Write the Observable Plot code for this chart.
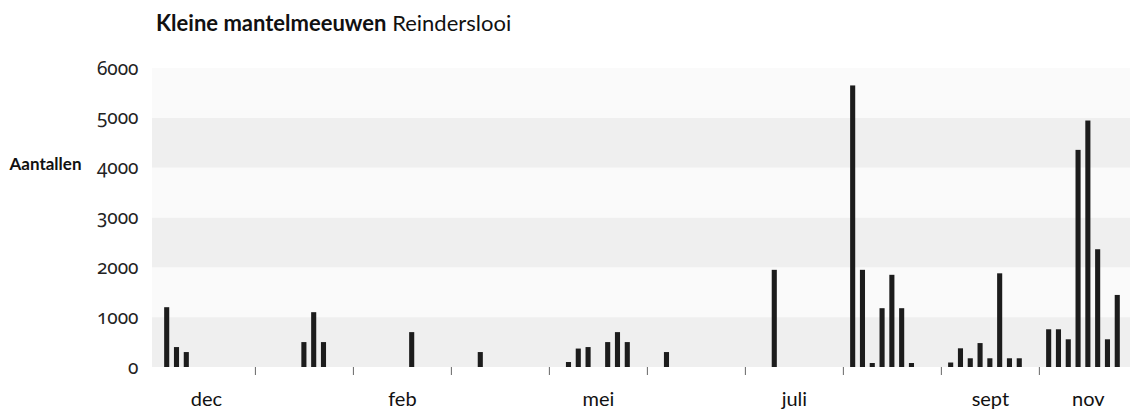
<!DOCTYPE html>
<html>
<head>
<meta charset="utf-8">
<script src="https://cdn.jsdelivr.net/npm/d3@7"></script>
<script src="https://cdn.jsdelivr.net/npm/@observablehq/plot@0.6"></script>
<style>
  html, body { margin: 0; padding: 0; background: #fff; }
  body { width: 1130px; height: 412px; overflow: hidden; font-family: Lato, "Noto Sans", sans-serif; }
  #title { height: 40px; position: relative; }
  #title span.t { position: absolute; left: 156px; top: 10px; font-size: 22px; line-height: 26px; color: #111; white-space: nowrap; }
  #title b { font-weight: 700; }
  svg { display: block; }
  svg text { font-feature-settings: "onum" 1; font-variant-numeric: oldstyle-nums; }
</style>
</head>
<body>
<div id="title"><span class="t"><b>Kleine mantelmeeuwen</b> Reinderslooi</span></div>
<div id="chart"></div>
<script>
// survey index (bar slot) and counts
const slots  = [1, 2, 3, 15, 16, 17, 26, 33, 42, 43, 44, 46, 47, 48, 52, 63,
                71, 72, 73, 74, 75, 76, 77, 81, 82, 83, 84, 85, 86, 87, 88,
                91, 92, 93, 94, 95, 96, 97, 98];
const counts = [1200, 400, 300, 500, 1100, 500, 700, 300, 100, 370, 400, 500, 700, 500, 300, 1950,
                5650, 1950, 80, 1180, 1850, 1180, 80, 90, 375, 175, 480, 175, 1880, 175, 175,
                757, 757, 556, 4357, 4946, 2363, 556, 1446];
const monthPos    = [5, 25, 45, 65, 85, 95];
const monthLabels = ["dec", "feb", "mei", "juli", "sept", "nov"];
const dividerTicks = [10, 20, 30, 40, 50, 60, 70, 80, 90];
const yTicks = [0, 1000, 2000, 3000, 4000, 5000, 6000];
const bandLo = [0, 1000, 2000, 3000, 4000, 5000];

const bars = slots.map((s, i) => ({slot: s, count: counts[i]}));
const bands = bandLo.map((lo, i) => ({lo, hi: lo + 1000, shade: i % 2 === 0}));

const chart = Plot.plot({
  width: 1130,
  height: 372,
  marginLeft: 152,
  marginRight: 0,
  marginTop: 28,
  marginBottom: 45,
  style: {fontFamily: "Lato, 'Noto Sans', sans-serif", fontSize: "16px", color: "#222", background: "#fff"},
  x: {domain: [-0.5, 99.3], axis: null},
  y: {domain: [0, 6000], axis: null},
  marks: [
    Plot.rectY(bands, {x1: -0.5, x2: 99.3, y1: "lo", y2: "hi", fill: d => d.shade ? "#efefef" : "#fafafa"}),
    Plot.rectY(bars, {x1: d => d.slot - 0.26, x2: d => d.slot + 0.26, y1: 0, y2: "count", fill: "#1c1c1c"}),
    Plot.axisY({ticks: yTicks, tickSize: 0, tickPadding: 14, tickFormat: d => String(d), fontSize: 19, fontFamily: "'Noto Sans', Lato, sans-serif", fill: "#222"}),
    Plot.axisX({ticks: dividerTicks, tickSize: 8, tickFormat: () => "", stroke: "#666", strokeWidth: 1}),
    Plot.axisX({ticks: monthPos, tickSize: 0, tickPadding: 24, tickFormat: (d) => monthLabels[monthPos.indexOf(d)], fontSize: 20, fill: "#111"}),
    Plot.text([{y: 4000, label: "Aantallen"}], {y: "y", text: "label", frameAnchor: "left", textAnchor: "start", dx: -143, dy: -4, fontWeight: "bold", fontSize: 17, fill: "#111"})
  ]
});
document.getElementById("chart").appendChild(chart);
</script>
</body>
</html>
